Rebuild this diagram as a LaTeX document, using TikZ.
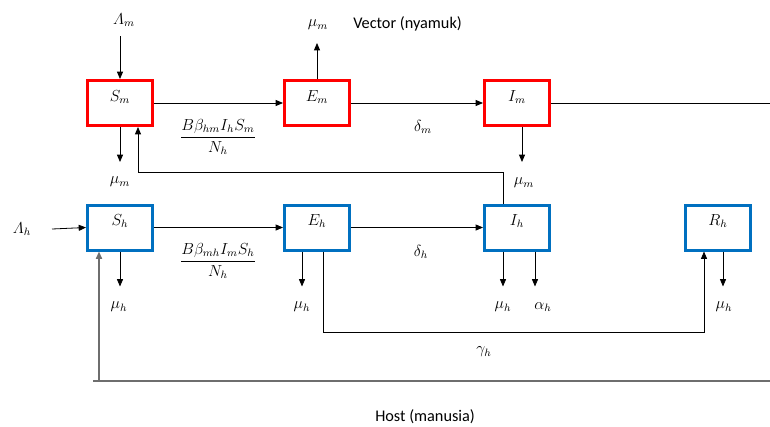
\documentclass[tikz,border=0pt]{standalone}
\usepackage{amsmath,amssymb}
\usepackage{fontspec}
\setmainfont{Carlito}
\usetikzlibrary{arrows.meta}
\definecolor{vecred}{RGB}{255,0,0}
\definecolor{hostblue}{RGB}{0,112,192}
\definecolor{basegray}{RGB}{110,110,110}
\tikzset{
	box/.style={draw,line width=2.25pt,fill=white,minimum width=48.75pt,minimum height=33.75pt,
		inner sep=0pt,text height=7pt,text depth=10pt,font=\fontsize{12}{14}\selectfont},
	vbox/.style={box,draw=vecred},
	hbox/.style={box,draw=hostblue},
	arr/.style={line width=0.6pt,-{Triangle[length=5.5pt,width=4.5pt]}},
	lbl/.style={inner sep=0pt,font=\fontsize{12}{14}\selectfont}
}

\begin{document}
\begin{tikzpicture}[x=0.75pt,y=-0.75pt]
	\useasboundingbox (0,0) rectangle (770,426);
	% vector (nyamuk)
	\node[vbox] (Sm) at(120,103){$S_m$};
	\node[vbox] (Em) at(317,103){$E_m$};
	\node[vbox] (Im) at(517,103){$I_m$};
	\node[lbl] (lamM) at(124,20){$\varLambda_m$};
	\node[lbl] (muSm) at(120,182){$\mu_m$};
	\node[lbl] (muEm) at(318,25){$\mu_m$};
	\node[lbl] (muIm) at(524,183){$\mu_m$};
	\node[lbl,anchor=west,font=\fontsize{12.2}{14}\selectfont] (vec) at(353,24){Vector (nyamuk)};
	\node[lbl] (fracM) at(218,137){$\displaystyle\frac{B\beta_{hm}I_hS_m}{N_h}$};
	\node[lbl] (delM) at(423,127){$\delta_m$};
	\coordinate (lamMin) at(120,36);
	\coordinate (muEmOut) at(317,43);
	\coordinate (ImOut) at(770,103);
	\draw[arr] (lamMin)--(Sm.north);
	\draw[arr] (Sm.south)--++(0,35);
	\draw[arr] (Em.north)--(muEmOut);
	\draw[arr] (Sm.east)--(Em.west);
	\draw[arr] (Em.east)--(Im.west);
	\draw[line width=0.6pt] (Im.east)--(ImOut);
	\draw[arr] ([xshift=3.75pt]Im.south)--++(0,35);
	% host (manusia)
	\node[hbox] (Sh) at(120,227.5){$S_h$};
	\node[hbox] (Eh) at(317,227.5){$E_h$};
	\node[hbox] (Ih) at(517,227.5){$I_h$};
	\node[hbox] (Rh) at(718,227.5){$R_h$};
	\node[lbl] (lamH) at(22,229){$\varLambda_h$};
	\node[lbl] (fracH) at(218,261){$\displaystyle\frac{B\beta_{mh}I_mS_h}{N_h}$};
	\node[lbl] (delH) at(421,252){$\delta_h$};
	\node[lbl] (gamH) at(484,352){$\gamma_h$};
	\node[lbl] (muSh) at(119,307){$\mu_h$};
	\node[lbl] (muEh) at(302,307){$\mu_h$};
	\node[lbl] (muIh) at(503,307){$\mu_h$};
	\node[lbl] (alpIh) at(543,307){$\alpha_h$};
	\node[lbl] (muRh) at(724,307){$\mu_h$};
	\node[lbl,anchor=west,font=\fontsize{12.2}{14}\selectfont] (host) at(375,417){Host (manusia)};
	\coordinate (lamHin) at(52,229);
	\coordinate (baseL) at(93,381);
	\coordinate (baseR) at(770,381);
	\draw[arr] (lamHin)--(Sh.west);
	\draw[arr] (Sh.east)--(Eh.west);
	\draw[arr] (Eh.east)--(Ih.west);
	\draw[arr] (Sh.south)--++(0,35);
	\draw[arr] ([xshift=-11.25pt]Eh.south)--++(0,35);
	\draw[arr] ([xshift=-10.5pt]Ih.south)--++(0,35);
	\draw[arr] ([xshift=13.5pt]Ih.south)--++(0,35);
	\draw[arr] ([xshift=3.75pt]Rh.south)--++(0,35);
	\draw[arr] ([xshift=4.5pt]Eh.south)--++(0,81)-|([xshift=-10.5pt]Rh.south);
	% feedback I_h -> S_m
	\draw[arr] ([xshift=-10.5pt]Ih.north)--++(0,-31)-|([xshift=13.5pt]Sm.south);
	% base line back to S_h
	\draw[basegray,line width=1.2pt] (baseL)--(baseR);
	\draw[arr,basegray,line width=1.2pt] ([xshift=-15.75pt]Sh.south|-baseL)--([xshift=-15.75pt]Sh.south);
\end{tikzpicture}
\end{document}
